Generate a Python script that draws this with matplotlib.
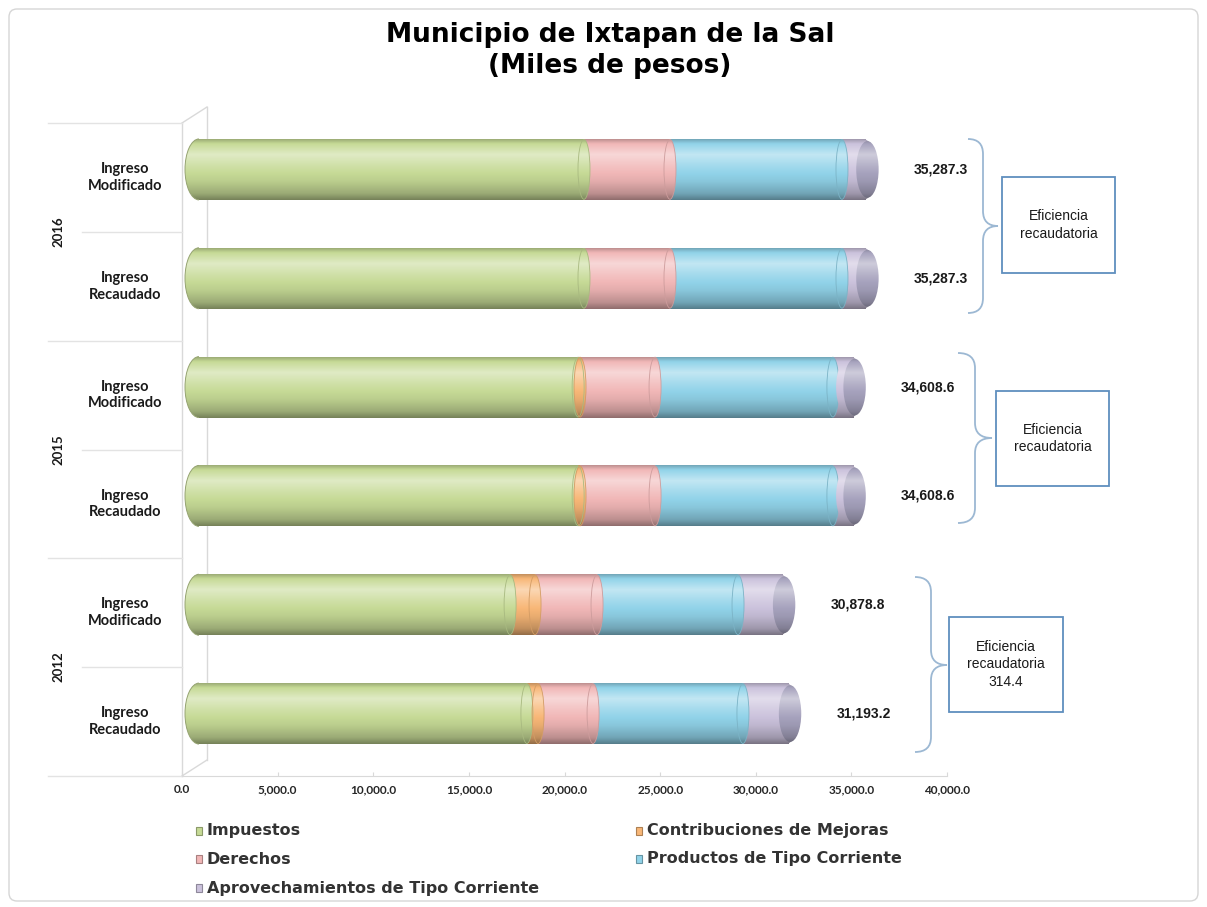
import numpy as np
import matplotlib
matplotlib.use('Agg')
import matplotlib.pyplot as plt
from matplotlib.patches import Rectangle, Ellipse, FancyBboxPatch, PathPatch, Arc
from matplotlib.path import Path
from matplotlib.colors import to_rgb

# ---------------- data ----------------
years = ['2016', '2015', '2012']
row_labels = ['Ingreso\nModificado', 'Ingreso\nRecaudado'] * 3
series = ['Impuestos', 'Contribuciones de Mejoras', 'Derechos',
          'Productos de Tipo Corriente', 'Aprovechamientos de Tipo Corriente']
impuestos = [20370.0, 20370.0, 20060.0, 20060.0, 16460.0, 17350.0]
contribuciones = [0.0, 0.0, 100.0, 100.0, 1320.0, 590.0]
derechos = [4550.0, 4550.0, 3970.0, 3970.0, 3280.0, 2910.0]
productos = [9100.0, 9100.0, 9410.0, 9410.0, 7460.0, 7930.0]
aprovechamientos = [1267.3, 1267.3, 1068.6, 1068.6, 2358.8, 2413.2]
x_ticks = [0, 5000, 10000, 15000, 20000, 25000, 30000, 35000, 40000]

values = [impuestos, contribuciones, derechos, productos, aprovechamientos]
colors = ['#c6da96', '#f8b777', '#f1b7b7', '#91d3e9', '#cbc2dc']
totals = [sum(v[i] for v in values) for i in range(len(row_labels))]

# ---------------- figure ----------------
W, H = 1207, 907
fig = plt.figure(figsize=(W / 100, H / 100), dpi=100)
fig.patch.set_facecolor('white')

ov = fig.add_axes([0, 0, 1, 1])
ov.set_xlim(0, W)
ov.set_ylim(H, 0)
ov.axis('off')

XMAX = 40000
n_rows = len(row_labels)

# floor / category axes (front plane)
AX_L, AX_R, AX_T, AX_B = 182, 947, 123, 776
ax = fig.add_axes([AX_L / W, 1 - AX_B / H, (AX_R - AX_L) / W, (AX_B - AX_T) / H])
ax.set_facecolor('none')

# bar plane (middle depth of the 3-D box: shifted right and up)
ZERO_PX, FULL_PX = 199, 955
BX_L, BX_R, BX_T, BX_B = 180, 955, 115, 768
PX = XMAX / (FULL_PX - ZERO_PX)          # data units per pixel in x
bx = fig.add_axes([BX_L / W, 1 - BX_B / H, (BX_R - BX_L) / W, (BX_B - BX_T) / H])
bx.set_facecolor('none')
bx.axis('off')

prof_s = [0, 0.07, 0.25, 0.45, 0.7, 0.9, 1.0]
prof_f = [0.8, 1.0, 1.15, 1.05, 0.94, 0.78, 0.6]


def shade(color, f):
    c = np.array(to_rgb(color))
    if f >= 1:
        c = c + (1 - c) * min(1.0, (f - 1) * 3)
    else:
        c = c * f
    return np.clip(c, 0, 1)


def grad(color, n=64):
    s = np.linspace(0, 1, n)
    f = np.interp(s, prof_s, prof_f)
    return np.array([[shade(color, fk)] for fk in f])


def shaded_fill(patch, color, x0, x1, y0, y1, z):
    patch.set_transform(bx.transData)
    im = bx.imshow(grad(color), extent=(x0, x1, y1, y0), aspect='auto',
                   interpolation='bilinear', zorder=z)
    im.set_clip_path(patch)


BAR_H = 0.56
CAP_W = 28 * PX
for i in range(n_rows):
    yc = i
    y0, y1 = yc - BAR_H / 2, yc + BAR_H / 2
    left = 0.0
    segs = [(j, values[j][i]) for j in range(len(values)) if values[j][i] > 0]
    for k, (j, w) in enumerate(segs):
        shaded_fill(Rectangle((left, y0), w, BAR_H), colors[j],
                    left, left + w, y0, y1, 2)
        if k == 0:
            shaded_fill(Ellipse((left, yc), CAP_W, BAR_H), colors[j],
                        left - CAP_W / 2, left + CAP_W / 2, y0, y1, 2)
            bx.add_patch(Arc((left, yc), CAP_W, BAR_H, theta1=90, theta2=270,
                             edgecolor=shade(colors[j], 0.75), lw=0.7, zorder=2.2))
        left += w
        if k < len(segs) - 1:
            ew = 12 * PX
            shaded_fill(Ellipse((left, yc), ew, BAR_H * 0.98), colors[j],
                        left - ew / 2, left + ew / 2, y0, y1, 3)
            bx.add_patch(Ellipse((left, yc), ew, BAR_H * 0.98, facecolor='none',
                                 edgecolor=shade(colors[j], 0.85), lw=0.6, zorder=3.1))
        else:
            shaded_fill(Ellipse((left - 3 * PX, yc), CAP_W, BAR_H), colors[j],
                        left - 3 * PX - CAP_W / 2, left - 3 * PX + CAP_W / 2, y0, y1, 4)
            face = Ellipse((left + 1.5 * PX, yc), CAP_W * 0.8, BAR_H * 0.93)
            face.set_transform(bx.transData)
            im = bx.imshow(grad('#a6a2bd'), extent=(left - CAP_W / 2, left + CAP_W / 2, y1, y0),
                           aspect='auto', interpolation='bilinear', zorder=4.2)
            im.set_clip_path(face)
    bx.text(totals[i] + 75 * PX, yc, f'{totals[i]:,.1f}', ha='center', va='center',
            fontfamily='Liberation Sans', fontweight='bold', fontsize=10,
            color='#1a1a1a', zorder=5)

bx.set_xlim(-(ZERO_PX - BX_L) * PX, XMAX)
bx.set_ylim(n_rows - 0.5, -0.5)

ax.set_xlim(0, XMAX)
ax.set_ylim(n_rows - 0.5, -0.5)
for s in ['top', 'right', 'left']:
    ax.spines[s].set_visible(False)
ax.spines['bottom'].set_color('#d9d9d9')
ax.set_yticks([])
ax.set_xticks(x_ticks)
ax.set_xticklabels([f'{v:,.1f}' for v in x_ticks], fontfamily='Lato',
                   fontweight='bold', fontsize=8.5, color='#262626')
ax.tick_params(axis='x', direction='in', length=3, color='#d9d9d9', pad=6)

# row labels and separators
ytr = ax.get_yaxis_transform()
for i, lab in enumerate(row_labels):
    ax.text((125 - AX_L) / (AX_R - AX_L), i, lab, transform=ytr, ha='center',
            va='center', fontfamily='Lato', fontweight='bold', fontsize=10.5,
            color='#1a1a1a', linespacing=1.25)
for k in range(n_rows + 1):
    xs = (48 - AX_L) / (AX_R - AX_L) if k % 2 == 0 else (82 - AX_L) / (AX_R - AX_L)
    ax.plot([xs, 0], [k - 0.5, k - 0.5], transform=ytr, color='#e3e3e3', lw=1,
            clip_on=False)
for g, yr in enumerate(years):
    ax.text((58 - AX_L) / (AX_R - AX_L), 2 * g + 0.5, yr, transform=ytr, rotation=90,
            ha='center', va='center', fontfamily='Lato', fontweight='bold',
            fontsize=9.5, color='#1a1a1a')

# 3D wall lines
wall = '#d9d9d9'
ov.plot([AX_L, AX_L], [AX_T, AX_B], color=wall, lw=1)
ov.plot([AX_L + 25, AX_L + 25], [AX_T - 16, AX_B - 16], color=wall, lw=1)
ov.plot([AX_L, AX_L + 25], [AX_T, AX_T - 16], color=wall, lw=1)
ov.plot([AX_L, AX_L + 25], [AX_B, AX_B - 16], color=wall, lw=1)

# braces and boxes
brace_layout = [(968, 983, 998, 139, 226, 313),
                (958, 975, 992, 353, 438, 523),
                (915, 931, 947, 577, 665, 752)]
box_layout = [(1002, 177, 1115, 273), (996, 391, 1109, 486), (949, 617, 1063, 712)]
for g in range(len(years)):
    xe, xsp, xt, yt, ym, yb = brace_layout[g]
    r = 15
    verts = [(xe, yt), (xsp, yt), (xsp, yt + r), (xsp, ym - r), (xsp, ym), (xt, ym),
             (xsp, ym), (xsp, ym + r), (xsp, yb - r), (xsp, yb), (xe, yb)]
    codes = [Path.MOVETO, Path.CURVE3, Path.CURVE3, Path.LINETO, Path.CURVE3, Path.CURVE3,
             Path.CURVE3, Path.CURVE3, Path.LINETO, Path.CURVE3, Path.CURVE3]
    ov.add_patch(PathPatch(Path(verts, codes), facecolor='none', edgecolor='#9cb8d3', lw=1.3))
    bx0, by0, bx1, by1 = box_layout[g]
    ov.add_patch(Rectangle((bx0, by0), bx1 - bx0, by1 - by0, facecolor='white',
                           edgecolor='#5f8fbe', lw=1.3))
    diff = totals[2 * g + 1] - totals[2 * g]
    txt = 'Eficiencia\nrecaudatoria' + (f'\n{diff:,.1f}' if abs(diff) > 0.05 else '')
    ov.text((bx0 + bx1) / 2, (by0 + by1) / 2, txt, ha='center', va='center',
            fontfamily='Liberation Sans', fontsize=10, color='#1a1a1a', linespacing=1.35)

# title
ov.text(610, 35, 'Municipio de Ixtapan de la Sal', ha='center', va='center',
        fontfamily='DejaVu Sans', fontweight='bold', fontsize=19, color='black')
ov.text(610, 66, '(Miles de pesos)', ha='center', va='center',
        fontfamily='DejaVu Sans', fontweight='bold', fontsize=19, color='black')

# legend
leg_x = [196, 636]
leg_y = [831, 859, 888]
for j, name in enumerate(series):
    x = leg_x[j % 2]
    y = leg_y[j // 2]
    ov.add_patch(Rectangle((x, y - 4), 6, 8, facecolor=colors[j],
                           edgecolor=shade(colors[j], 0.7), lw=0.8))
    ov.text(x + 11, y, name, ha='left', va='center', fontfamily='DejaVu Sans',
            fontweight='bold', fontsize=11.5, color='#333333')

# outer frame
ov.add_patch(FancyBboxPatch((9, 9), W - 18, H - 15, boxstyle='round,pad=0,rounding_size=8',
                            facecolor='none', edgecolor='#d6d6d6', lw=1))

fig.savefig('out.png', dpi=100, facecolor='white')
